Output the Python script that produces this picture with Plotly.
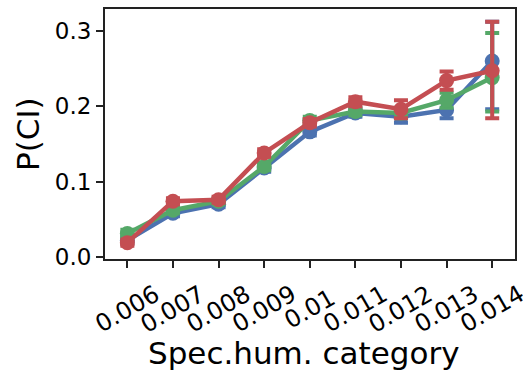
import plotly.graph_objects as go

# Specific-humidity categories and tick labels
categories = list(range(9))
tick_labels = ["0.006", "0.007", "0.008", "0.009", "0.01", "0.011", "0.012", "0.013", "0.014"]

# P(CI) per category for the three series
blue_vals = [0.022, 0.058, 0.070, 0.118, 0.166, 0.191, 0.186, 0.195, 0.260]
green_vals = [0.031, 0.062, 0.074, 0.120, 0.181, 0.193, 0.191, 0.208, 0.238]
red_vals = [0.019, 0.074, 0.076, 0.138, 0.178, 0.206, 0.196, 0.234, 0.247]

# Confidence-interval half-widths (upper / lower)
blue_hi = [0.004, 0.004, 0.004, 0.005, 0.005, 0.005, 0.008, 0.011, 0.052]
blue_lo = [0.004, 0.004, 0.004, 0.005, 0.005, 0.005, 0.008, 0.011, 0.064]
green_hi = [0.005, 0.004, 0.004, 0.005, 0.005, 0.005, 0.007, 0.010, 0.059]
green_lo = [0.005, 0.004, 0.004, 0.005, 0.005, 0.005, 0.007, 0.010, 0.045]
red_hi = [0.004, 0.004, 0.004, 0.005, 0.005, 0.006, 0.012, 0.012, 0.065]
red_lo = [0.004, 0.004, 0.004, 0.005, 0.005, 0.006, 0.012, 0.012, 0.063]

series = [
    (blue_vals, blue_hi, blue_lo, "#4C72B0"),
    (green_vals, green_hi, green_lo, "#55A868"),
    (red_vals, red_hi, red_lo, "#C44E52"),
]

FONT = "DejaVu Sans"

fig = go.Figure()
for vals, hi, lo, color in series:
    fig.add_trace(go.Scatter(
        x=categories, y=vals, mode="lines+markers",
        line=dict(color=color, width=4.5),
        marker=dict(color=color, size=15),
        error_y=dict(type="data", symmetric=False, array=hi, arrayminus=lo,
                     color=color, thickness=4, width=7),
        showlegend=False,
    ))

# Rotated category labels under the x axis
for c, lab in zip(categories, tick_labels):
    fig.add_annotation(
        x=c, y=0, xref="x", yref="paper", text=lab, showarrow=False,
        textangle=-30, xanchor="center", yanchor="middle", yshift=-50,
        font=dict(family=FONT, size=24, color="black"),
    )

fig.add_annotation(
    x=0.5, y=0, xref="paper", yref="paper", text="Spec.hum. category",
    showarrow=False, xanchor="center", yanchor="middle", yshift=-94, xshift=-6,
    font=dict(family=FONT, size=31, color="black"),
)
fig.add_annotation(
    x=0, y=0.5, xref="paper", yref="paper", text="P(CI)",
    showarrow=False, textangle=-90, xanchor="center", yanchor="middle", xshift=-77,
    font=dict(family=FONT, size=31, color="black"),
)

axis_common = dict(
    showline=True, linecolor="#222222", linewidth=2, mirror=True,
    showgrid=False, zeroline=False, ticks="outside", ticklen=7, tickwidth=1.5,
    tickcolor="#222222",
)
fig.update_xaxes(range=[-0.49, 8.5], tickvals=categories, showticklabels=False, **axis_common)
fig.update_yaxes(range=[-0.0027, 0.329], tickvals=[0.0, 0.1, 0.2, 0.3], tickformat=".1f",
                 tickfont=dict(family=FONT, size=23, color="black"), **axis_common)

fig.update_layout(
    width=523, height=371,
    margin=dict(l=105, r=6, t=9, b=112),
    plot_bgcolor="white", paper_bgcolor="white",
    font=dict(family=FONT),
)

fig.write_html("out.html")
